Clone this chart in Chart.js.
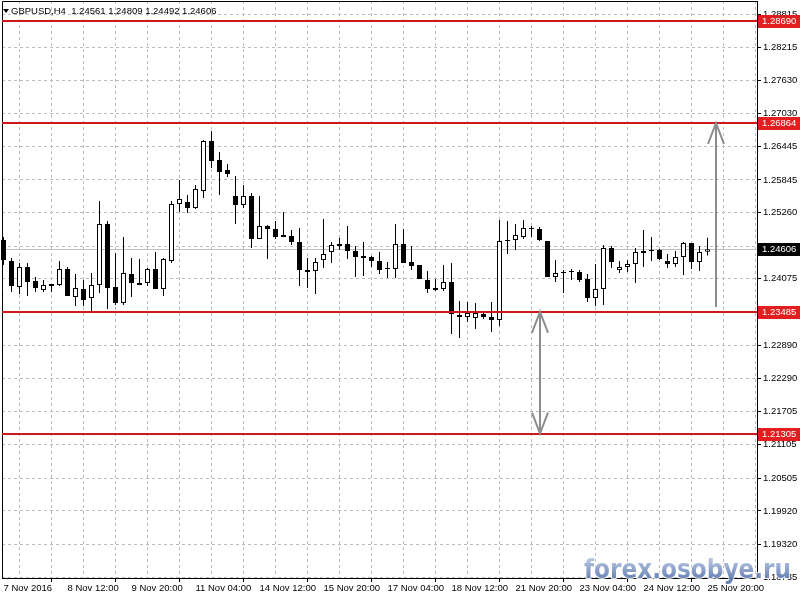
<!DOCTYPE html>
<html>
<head>
  <title>GBPUSD,H4</title>
  <script src="https://cdn.jsdelivr.net/npm/chart.js"></script>
  <style>
    body { margin: 0; background: #fff; }
  </style>
</head>
<body>
  <canvas id="myChart" width="800" height="600"></canvas>

  <script>
    // GBPUSD H4 bars (bar 0 = 7 Nov 2016 04:00)
    const opens = [
      1.24770, 1.24393, 1.23928, 1.24286, 1.24035, 1.23874, 1.23981, 1.23963, 1.24250, 1.23749,
      1.23892, 1.23731, 1.23963, 1.25056, 1.23928, 1.23641, 1.24160, 1.23999, 1.23999, 1.24250,
      1.23892, 1.24393, 1.25414, 1.25450, 1.25342, 1.25647, 1.26542, 1.26202, 1.26023, 1.25557,
      1.25396, 1.25557, 1.24787, 1.25020, 1.24967, 1.24859, 1.24841, 1.24734, 1.24232, 1.24214,
      1.24411, 1.24555, 1.24698, 1.24698, 1.24573, 1.24483, 1.24465, 1.24393, 1.24268, 1.24250,
      1.24698, 1.24375, 1.24322, 1.24053, 1.23910, 1.23892, 1.24017, 1.23427, 1.23391, 1.23373,
      1.23445, 1.23391, 1.23337, 1.24770, 1.24770, 1.24823, 1.24985, 1.24967, 1.24752, 1.24107,
      1.24196, 1.24214, 1.24196, 1.24071, 1.23731, 1.23892, 1.24626, 1.24232, 1.24286, 1.24340,
      1.24573, 1.24573, 1.24590, 1.24393, 1.24340, 1.24465, 1.24716, 1.24375, 1.24561
    ];
    const highs = [
      1.24823, 1.24447, 1.24358, 1.24358, 1.24107, 1.24053, 1.23981, 1.24393, 1.24286, 1.24160,
      1.24053, 1.24178, 1.25468, 1.25110, 1.24537, 1.24823, 1.24447, 1.24429, 1.24268, 1.24555,
      1.24447, 1.25468, 1.25844, 1.25575, 1.25754, 1.26560, 1.26721, 1.26345, 1.26130, 1.25916,
      1.25754, 1.25611, 1.25557, 1.25038, 1.25110, 1.25271, 1.24949, 1.24985, 1.24447, 1.24447,
      1.25146, 1.24734, 1.24805, 1.25020, 1.24662, 1.24734, 1.24483, 1.24555, 1.24375, 1.25056,
      1.24967, 1.24662, 1.24322, 1.24214, 1.24071, 1.24322, 1.24358, 1.23677, 1.23659, 1.23641,
      1.23480, 1.23659, 1.25128, 1.25110, 1.25056, 1.25128, 1.25020, 1.25002, 1.24752, 1.24411,
      1.24232, 1.24250, 1.24232, 1.24160, 1.24340, 1.24680, 1.24662, 1.24393, 1.24411, 1.24626,
      1.24949, 1.24823, 1.24608, 1.24519, 1.24573, 1.24734, 1.24716, 1.24662, 1.24809
    ];
    const lows = [
      1.24322, 1.23838, 1.23802, 1.23767, 1.23838, 1.23838, 1.23838, 1.23946, 1.23767, 1.23587,
      1.23587, 1.23498, 1.23820, 1.23534, 1.23605, 1.23605, 1.23749, 1.23963, 1.23946, 1.23892,
      1.23767, 1.24358, 1.25271, 1.25253, 1.25325, 1.25521, 1.26059, 1.25575, 1.25898, 1.25056,
      1.25342, 1.24626, 1.24787, 1.24429, 1.24787, 1.24823, 1.24680, 1.23946, 1.23910, 1.23802,
      1.24268, 1.24358, 1.24590, 1.24429, 1.24107, 1.24125, 1.24286, 1.24160, 1.24089, 1.24089,
      1.24358, 1.24232, 1.24071, 1.23820, 1.23856, 1.23856, 1.23087, 1.23016, 1.23301, 1.23177,
      1.23355, 1.23123, 1.23230, 1.24519, 1.24590, 1.24787, 1.24823, 1.24752, 1.24107, 1.24017,
      1.23820, 1.24053, 1.24017, 1.23659, 1.23587, 1.23605, 1.24268, 1.24178, 1.24196, 1.23999,
      1.24286, 1.24393, 1.24411, 1.24268, 1.24286, 1.24143, 1.24250, 1.24214, 1.24492
    ];
    const closes = [
      1.24411, 1.23946, 1.24286, 1.24017, 1.23910, 1.23963, 1.23946, 1.24250, 1.23767, 1.23910,
      1.23695, 1.23963, 1.25056, 1.23910, 1.23641, 1.24178, 1.23999, 1.23963, 1.24250, 1.23892,
      1.24429, 1.25414, 1.25504, 1.25342, 1.25683, 1.26542, 1.26184, 1.25987, 1.25951, 1.25396,
      1.25557, 1.24787, 1.25020, 1.24967, 1.24823, 1.24823, 1.24734, 1.24232, 1.24196, 1.24375,
      1.24519, 1.24680, 1.24662, 1.24573, 1.24465, 1.24447, 1.24393, 1.24232, 1.24250, 1.24698,
      1.24358, 1.24304, 1.24071, 1.23892, 1.23874, 1.24017, 1.23445, 1.23391, 1.23462, 1.23462,
      1.23391, 1.23337, 1.24752, 1.24752, 1.24859, 1.24985, 1.24967, 1.24770, 1.24107, 1.24178,
      1.24178, 1.24196, 1.24053, 1.23731, 1.23892, 1.24626, 1.24375, 1.24286, 1.24340, 1.24555,
      1.24537, 1.24590, 1.24429, 1.24340, 1.24465, 1.24716, 1.24375, 1.24555, 1.24606
    ];

    // time axis: one label every 8 bars
    const timeLabels = [
      '7 Nov 2016', '8 Nov 12:00', '9 Nov 20:00', '11 Nov 04:00', '14 Nov 12:00', '15 Nov 20:00',
      '17 Nov 04:00', '18 Nov 12:00', '21 Nov 20:00', '23 Nov 04:00', '24 Nov 12:00', '25 Nov 20:00'
    ];
    const priceTicks = [
      1.28815, 1.28215, 1.27630, 1.27030, 1.26445, 1.25845, 1.25260, 1.24660, 1.24075,
      1.23485, 1.22890, 1.22290, 1.21705, 1.21105, 1.20505, 1.19920, 1.19320, 1.18735
    ];

    // horizontal levels and the last price
    const levels = [1.28690, 1.26864, 1.23485, 1.21305];
    const lastPrice = 1.24606;
    const titleText = 'GBPUSD,H4  1.24561 1.24809 1.24492 1.24606';

    // drawn arrows: bar position, start price, end price, two heads?
    const arrowBars = [89, 67];
    const arrowFrom = [1.23570, 1.23485];
    const arrowTo = [1.26864, 1.21305];
    const arrowDouble = [false, true];

    const FONT = '9.5px "Liberation Sans", Arial, sans-serif';

    const bars = opens.map((o, i) => ({ x: i, y: [o, closes[i]] }));
    const wicks = highs.map((h, i) => ({ x: i, y: [lows[i], h] }));

    function head(ctx, x, y, dir) {
      ctx.beginPath();
      ctx.moveTo(x - 8, y + dir * 21);
      ctx.lineTo(x, y);
      ctx.lineTo(x + 8, y + dir * 21);
      ctx.stroke();
    }

    function noPad(s) {
      s.paddingTop = 0;
      s.paddingBottom = 0;
      s.paddingLeft = 0;
      s.paddingRight = 0;
    }

    const overlay = {
      id: 'overlay',
      beforeDatasetsDraw(chart) {
        const { ctx, chartArea: a, scales: { y } } = chart;
        const py = Math.round(y.getPixelForValue(lastPrice)) + 0.5;
        ctx.save();
        ctx.strokeStyle = '#c0c0c0';
        ctx.lineWidth = 1;
        ctx.beginPath();
        ctx.moveTo(a.left, py);
        ctx.lineTo(a.right, py);
        ctx.stroke();
        ctx.restore();
      },
      afterDatasetsDraw(chart) {
        const { ctx, chartArea: a, scales: { x, y } } = chart;
        ctx.save();

        // frame (left/top)
        ctx.strokeStyle = '#000';
        ctx.lineWidth = 1;
        ctx.beginPath();
        ctx.moveTo(a.left + 0.5, a.bottom);
        ctx.lineTo(a.left + 0.5, a.top + 0.5);
        ctx.lineTo(a.right, a.top + 0.5);
        ctx.stroke();

        // red levels
        ctx.strokeStyle = '#cc1a1a';
        ctx.lineWidth = 2;
        levels.forEach(v => {
          const py = Math.round(y.getPixelForValue(v));
          ctx.beginPath();
          ctx.moveTo(a.left, py);
          ctx.lineTo(a.right, py);
          ctx.stroke();
        });

        // arrows
        ctx.strokeStyle = '#8c8c8c';
        ctx.lineWidth = 2;
        arrowBars.forEach((b, i) => {
          const px = Math.round(x.getPixelForValue(b));
          const y1 = y.getPixelForValue(arrowFrom[i]);
          const y2 = y.getPixelForValue(arrowTo[i]);
          ctx.beginPath();
          ctx.moveTo(px, y1);
          ctx.lineTo(px, y2);
          ctx.stroke();
          const dir = y2 < y1 ? 1 : -1;
          head(ctx, px, y2, dir);
          if (arrowDouble[i]) head(ctx, px, y1, -dir);
        });

        // price labels on the axis
        ctx.font = FONT;
        ctx.textBaseline = 'middle';
        ctx.textAlign = 'left';
        const tag = (v, bg) => {
          const py = Math.round(y.getPixelForValue(v));
          ctx.fillStyle = bg;
          ctx.fillRect(a.right + 1, py - 6, 800 - a.right - 1, 13);
          ctx.fillStyle = '#fff';
          ctx.fillText(v.toFixed(5), a.right + 5, py + 0.5);
        };
        levels.forEach(v => tag(v, '#e41e1e'));
        tag(lastPrice, '#000');

        // title
        ctx.fillStyle = '#000';
        ctx.beginPath();
        ctx.moveTo(3, 9);
        ctx.lineTo(9, 9);
        ctx.lineTo(6, 13);
        ctx.closePath();
        ctx.fill();
        ctx.fillText(titleText, 11, 11);

        // watermark
        ctx.save();
        ctx.translate(584, 578);
        ctx.scale(0.86, 1);
        ctx.font = 'bold 27px "DejaVu Sans", sans-serif';
        ctx.textBaseline = 'alphabetic';
        const g = ctx.createLinearGradient(0, -20, 0, 0);
        g.addColorStop(0, 'rgba(180,196,224,0.9)');
        g.addColorStop(1, 'rgba(92,120,176,0.9)');
        ctx.lineWidth = 2;
        ctx.strokeStyle = 'rgba(255,255,255,0.85)';
        ctx.strokeText('forex.osobye.ru', 0, 0);
        ctx.fillStyle = g;
        ctx.fillText('forex.osobye.ru', 0, 0);
        ctx.restore();

        ctx.restore();
      }
    };

    const ctx = document.getElementById('myChart').getContext('2d');
    new Chart(ctx, {
      type: 'bar',
      data: {
        datasets: [
          {
            label: 'body',
            data: bars,
            backgroundColor: bars.map(b => (b.y[1] >= b.y[0] ? '#fff' : '#000')),
            borderColor: '#000',
            borderWidth: 1,
            borderSkipped: false,
            barThickness: 5,
            inflateAmount: 0,
            grouped: false,
            clip: false
          },
          {
            label: 'wick',
            data: wicks,
            backgroundColor: '#000',
            borderWidth: 0,
            barThickness: 1,
            inflateAmount: 0,
            grouped: false,
            clip: false
          }
        ]
      },
      options: {
        responsive: false,
        animation: false,
        devicePixelRatio: 1,
        layout: { padding: { top: 1, left: 2, right: 0, bottom: 0 } },
        plugins: { legend: { display: false }, tooltip: { enabled: false } },
        scales: {
          x: {
            type: 'linear',
            offset: false,
            min: -0.1875,
            max: 94.1875,
            afterBuildTicks: s => {
              s.ticks = [];
              for (let v = 0; v <= 92; v += 4) s.ticks.push({ value: v });
            },
            afterFit: s => { s.height = 22; noPad(s); },
            ticks: {
              autoSkip: false,
              maxRotation: 0,
              minRotation: 0,
              align: 'start',
              padding: 1,
              color: '#000',
              font: { family: '"Liberation Sans", Arial, sans-serif', size: 9.5 },
              callback: v => (v % 8 === 0 ? timeLabels[v / 8] : '')
            },
            grid: {
              color: '#bcbcbc',
              tickLength: 4,
              tickColor: c => (c.tick && c.tick.value % 8 === 0 ? '#000' : 'rgba(0,0,0,0)')
            },
            border: { color: '#000', width: 1, dash: [3, 3] }
          },
          y: {
            position: 'right',
            min: 1.187194,
            max: 1.290477,
            afterBuildTicks: s => { s.ticks = priceTicks.map(v => ({ value: v })); },
            afterFit: s => { s.width = 43; noPad(s); },
            ticks: {
              autoSkip: false,
              padding: 2,
              color: '#000',
              font: { family: '"Liberation Sans", Arial, sans-serif', size: 9.5 },
              callback: v => v.toFixed(5)
            },
            grid: { color: '#bcbcbc', tickLength: 4, tickColor: '#000' },
            border: { color: '#000', width: 1, dash: [3, 3] }
          }
        }
      },
      plugins: [overlay]
    });
  </script>
</body>
</html>
